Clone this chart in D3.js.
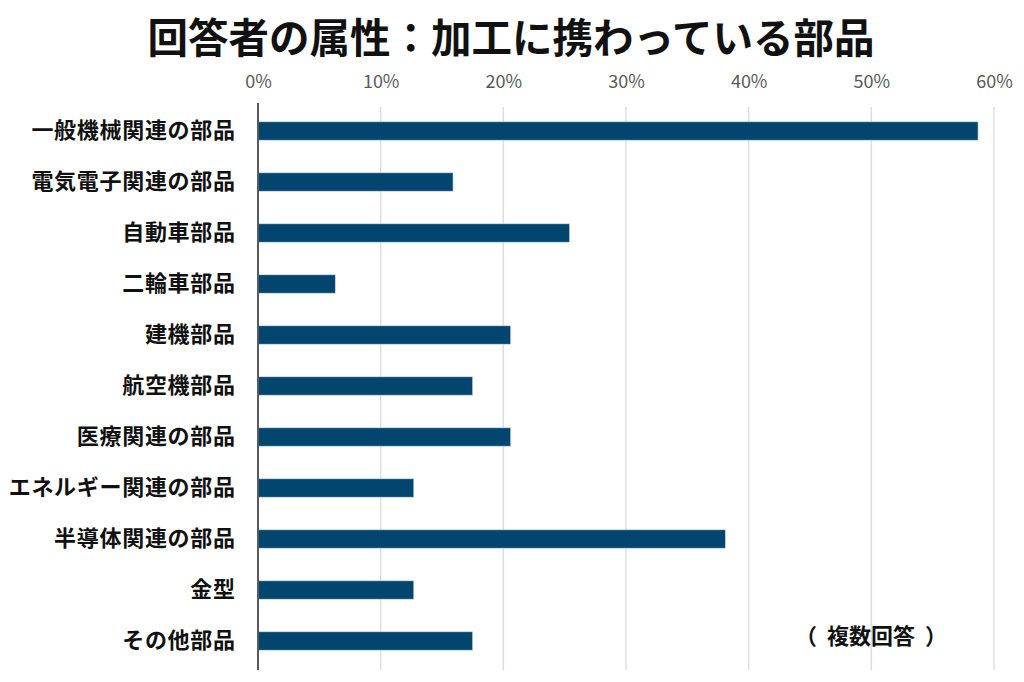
<!DOCTYPE html>
<html>
<head>
<meta charset="utf-8">
<script src="https://cdn.jsdelivr.net/npm/d3@7"></script>
<style>
  body { margin: 0; background: #fff; }
  text { font-family: "Noto Sans CJK JP", "Noto Sans", sans-serif; }
</style>
</head>
<body>
<script>
// Data
const categories = ["一般機械関連の部品", "電気電子関連の部品", "自動車部品", "二輪車部品", "建機部品",
    "航空機部品", "医療関連の部品", "エネルギー関連の部品", "半導体関連の部品", "金型", "その他部品"];
const values = [0.587, 0.159, 0.254, 0.063, 0.206, 0.175, 0.206, 0.127, 0.381, 0.127, 0.175];
const xTicks = [0, 0.1, 0.2, 0.3, 0.4, 0.5, 0.6];

const data = categories.map((c, i) => ({ name: c, value: values[i] }));

const W = 1024, H = 682;
const svg = d3.select("body").append("svg")
    .attr("width", W)
    .attr("height", H);

// Title
svg.append("text")
    .attr("x", 511)
    .attr("y", 53)
    .attr("text-anchor", "middle")
    .attr("font-size", 40.5)
    .attr("font-weight", "bold")
    .attr("fill", "#111")
    .text("回答者の属性：加工に携わっている部品");

// Scales
const x = d3.scaleLinear().domain([0, 0.6]).range([258, 994]);
const y = d3.scaleBand()
    .domain(categories)
    .range([105.5, 666.5])
    .paddingInner(0.64)
    .paddingOuter(0.32);

// Gridlines
svg.append("g")
    .selectAll("line")
    .data(xTicks.slice(1))
    .join("line")
    .attr("x1", d => x(d)).attr("x2", d => x(d))
    .attr("y1", 107).attr("y2", 670)
    .attr("stroke", "#dedede")
    .attr("stroke-width", 1.5);

// Top axis labels
const xAxis = svg.append("g")
    .attr("transform", "translate(0,88)")
    .call(d3.axisTop(x).tickValues(xTicks).tickFormat(d3.format(".0%")).tickSize(0).tickPadding(0));
xAxis.select(".domain").remove();
xAxis.selectAll("text")
    .attr("dy", 0)
    .attr("font-size", 18)
    .attr("fill", "#595959")
    .style("font-family", "'Noto Sans CJK JP', sans-serif");

// Bars
svg.append("g")
    .selectAll("rect")
    .data(data)
    .join("rect")
    .attr("x", x(0))
    .attr("y", d => y(d.name))
    .attr("width", d => x(d.value) - x(0))
    .attr("height", y.bandwidth())
    .attr("fill", "#02466f")
    .attr("stroke", "#d0dbe6")
    .attr("stroke-width", 0.6);

// Left axis with category labels
const yAxis = svg.append("g")
    .attr("transform", `translate(${x(0)},0)`)
    .call(d3.axisLeft(y).tickSize(0).tickPadding(22.3));
yAxis.select(".domain").remove();
yAxis.selectAll("text")
    .attr("font-size", 22)
    .attr("font-weight", "bold")
    .attr("letter-spacing", 0.7)
    .attr("fill", "#111")
    .style("font-family", "'Noto Sans CJK JP', sans-serif");

svg.append("line")
    .attr("x1", x(0)).attr("x2", x(0))
    .attr("y1", 103).attr("y2", 670)
    .attr("stroke", "#5a5a5a")
    .attr("stroke-width", 2);

// Note
svg.append("text")
    .attr("x", 871)
    .attr("y", 644)
    .attr("text-anchor", "middle")
    .attr("font-size", 22)
    .attr("font-weight", "bold")
    .attr("fill", "#111")
    .attr("xml:space", "preserve")
    .text("（  複数回答  ）");
</script>
</body>
</html>
